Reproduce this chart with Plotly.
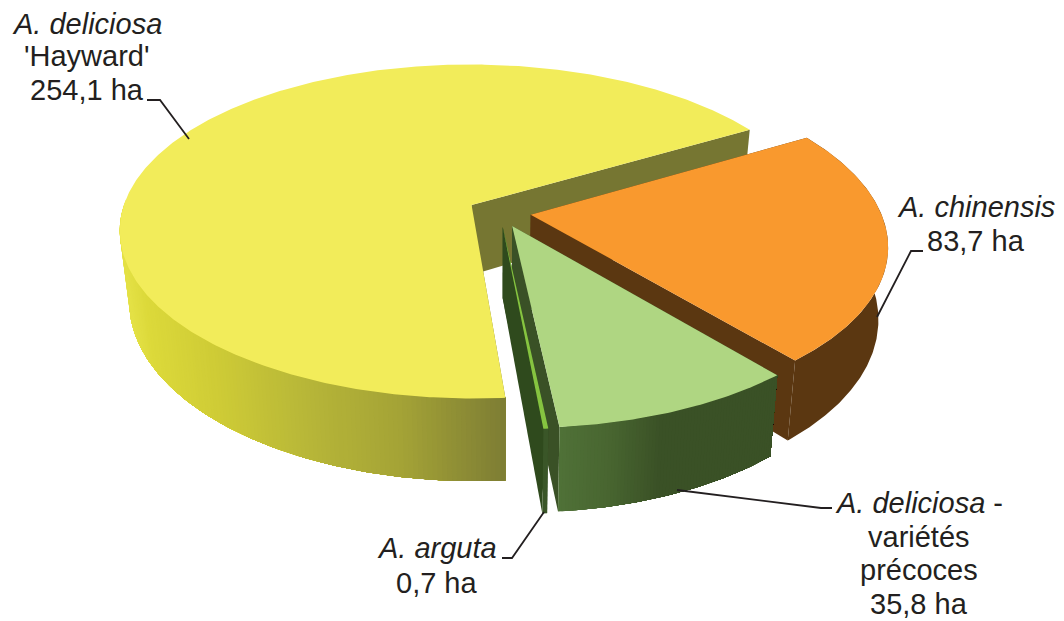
import numpy as np
import plotly.graph_objects as go

# ---- data ----
categories = ["A. deliciosa 'Hayward'", "A. chinensis", "A. deliciosa - variétés précoces", "A. arguta"]
values = [254.1, 83.7, 35.8, 0.7]
value_labels = ["254,1 ha", "83,7 ha", "35,8 ha", "0,7 ha"]
top_colors = ["#F2EC5A", "#F9992E", "#AFD682", "#86C440"]
cut_colors = ["#767632", "#5B3711", "#3A5126", "#2F4A1D"]
wall_stops = [
    [(125, "#E4E146"), (145, "#DCD93A"), (210, "#CFCC36"), (300, "#B8B738"), (400, "#A3A236"), (503, "#7D7D34")],
    [(0, "#5B3711"), (1064, "#5B3711")],
    [(555, "#507238"), (610, "#486530"), (660, "#3A5126"), (780, "#3A5126")],
    [(0, "#3A5628"), (1064, "#3A5628")],
]

# ---- 3D pie projection ----
START = 274.4
EXPLODE = 0.09
OX, OY = 499.5, 212.0
A, B, K, SHEAR = 350.0, 165.0, 0.159, 0.018
DEPTH, SHRINK = 70.0, 0.975


def project(u, v, lower=False):
    u, v = np.asarray(u, float), np.asarray(v, float)
    w = 1 + K * v
    s = SHRINK if lower else 1.0
    x = OX + s * A * (u - SHEAR * v) / w
    y = OY - B * v / w + (DEPTH / w if lower else 0.0)
    return x, y


def hex_rgb(c):
    return np.array([int(c[i:i + 2], 16) for i in (1, 3, 5)], float)


def wall_color(stops, x):
    xs = [s[0] for s in stops]
    rgb = np.array([hex_rgb(s[1]) for s in stops])
    r = [np.interp(x, xs, rgb[:, i]) for i in range(3)]
    return "rgb(%d,%d,%d)" % tuple(round(c) for c in r)


fig = go.Figure()


def poly(x, y, color, edge=0.6):
    fig.add_trace(go.Scatter(x=np.r_[x, x[0]], y=np.r_[y, y[0]], mode="lines", fill="toself",
                             fillcolor=color, line=dict(color=color, width=edge),
                             hoverinfo="skip", showlegend=False))


total = sum(values)
sweeps = [360.0 * v / total for v in values]
starts = START - np.r_[0, np.cumsum(sweeps)[:-1]]

for i in range(len(values)):
    t0, t1 = starts[i], starts[i] - sweeps[i]
    mid = np.radians((t0 + t1) / 2)
    au, av = EXPLODE * np.cos(mid), EXPLODE * np.sin(mid)
    rim = lambda t: (au + np.cos(np.radians(t)), av + np.sin(np.radians(t)))

    # radial cut faces
    for te in (t0, t1):
        ru, rv = rim(te)
        x1, y1 = project([au, ru], [av, rv])
        x2, y2 = project([ru, au], [rv, av], lower=True)
        poly(np.r_[x1, x2], np.r_[y1, y2], cut_colors[i], edge=0)

    # outer wall: painted left to right, each band reaching the wall's far end
    lo, hi = min(t0, t1), max(t0, t1)
    if i == 0:
        lo = max(lo, 178)
    n = {0: 140, 2: 70}.get(i, 1)
    ts = np.linspace(lo, hi, n + 1)
    for k in range(n):
        tt = np.linspace(ts[k], hi, max(2, int((hi - ts[k]) * 2)))
        ru, rv = rim(tt)
        x1, y1 = project(ru, rv)
        x2, y2 = project(ru[::-1], rv[::-1], lower=True)
        poly(np.r_[x1, x2], np.r_[y1, y2], wall_color(wall_stops[i], x1[0]), edge=0)

    # top face
    tt = np.linspace(t0, t1, max(3, int(sweeps[i] * 2)))
    ru, rv = rim(tt)
    x, y = project(np.r_[au, ru], np.r_[av, rv])
    poly(x, y, top_colors[i], edge=0)

# ---- labels ----
text_font = dict(family="Liberation Sans, Arial, sans-serif", size=29, color="#231F20")
labels = [
    (87, [24, 56, 90], ["<i>A. deliciosa</i>", "'Hayward'", value_labels[0]]),
    (976, [207, 241], ["<i>A. chinensis</i>", value_labels[1]]),
    (919, [503, 537, 570, 604], ["<i>A. deliciosa</i> -", "variétés", "précoces", value_labels[2]]),
    (437, [548, 583], ["<i>A. arguta</i>", value_labels[3]]),
]
for lx, lys, lines in labels:
    for ly, txt in zip(lys, lines):
        fig.add_annotation(x=lx, y=ly, text=txt, showarrow=False, xanchor="center", yanchor="middle",
                           align="center", font=text_font, xref="x", yref="y")

leaders = [
    ([147, 160, 189], [100, 100, 139]),
    ([923, 911, 877], [251, 251, 317]),
    ([677, 821, 832], [490, 508, 508]),
    ([544, 512, 502], [512, 558, 558]),
]
for lx, ly in leaders:
    fig.add_trace(go.Scatter(x=lx, y=ly, mode="lines", line=dict(color="#231F20", width=1.8),
                             hoverinfo="skip", showlegend=False))

fig.update_layout(
    width=1064, height=621, margin=dict(l=0, r=0, t=0, b=0),
    paper_bgcolor="white", plot_bgcolor="white", showlegend=False,
    xaxis=dict(range=[0, 1064], visible=False, fixedrange=True),
    yaxis=dict(range=[621, 0], visible=False, fixedrange=True),
)
fig.write_html("out.html", config=dict(displayModeBar=False),
               post_script="document.body.style.margin='0';document.documentElement.style.overflow='hidden';")
